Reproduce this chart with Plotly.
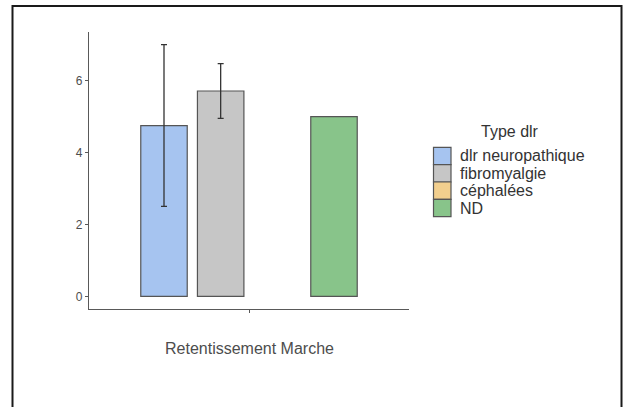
import plotly.graph_objects as go

# Data
category = ["Retentissement Marche"]
groups = ["dlr neuropathique", "fibromyalgie", "céphalées", "ND"]
means = [4.75, 5.71, None, 5.0]
errors = [2.25, 0.76, None, None]
colors = ["#A6C4F0", "#C6C6C6", "#F2CF8E", "#88C48A"]
y_ticks = [0, 2, 4, 6]

fig = go.Figure()
for g, m, e, c in zip(groups, means, errors, colors):
    fig.add_trace(go.Bar(
        x=category, y=[m], name=g, showlegend=False,
        marker=dict(color=c, line=dict(color="#555555", width=1.2)),
        error_y=dict(type="data", array=[e], visible=e is not None,
                     color="#333333", thickness=1.3, width=3),
    ))

W, H = 629, 407
L, R, T, B = 89, 629 - 409, 32, 407 - 309
pw, ph = W - L - R, H - T - B

def px_x(x):
    return (x - L) / pw

def px_y(y):
    return (H - B - y) / ph

shapes = [dict(
    type="rect", xref="paper", yref="paper",
    x0=px_x(12.5), x1=px_x(621.5), y0=px_y(440), y1=px_y(6),
    line=dict(color="#1a1a1a", width=2), fillcolor="rgba(0,0,0,0)", layer="below",
)]
annotations = [
    dict(text="Type dlr", xref="paper", yref="paper", x=px_x(510), y=px_y(131.5),
         xanchor="center", yanchor="middle", showarrow=False,
         font=dict(size=16, color="#333333")),
    dict(text="Retentissement Marche", xref="paper", yref="paper", x=px_x(249.5), y=px_y(348.3),
         xanchor="center", yanchor="middle", showarrow=False,
         font=dict(size=16, color="#4D4D4D")),
]
key_top, key_h = 147.3, 17.35
for i, (g, c) in enumerate(zip(groups, colors)):
    y0 = key_top + i * key_h
    shapes.append(dict(
        type="rect", xref="paper", yref="paper",
        x0=px_x(433.5), x1=px_x(451), y0=px_y(y0 + key_h), y1=px_y(y0),
        line=dict(color="#555555", width=1.2), fillcolor=c,
    ))
    annotations.append(dict(
        text=g, xref="paper", yref="paper", x=px_x(458), y=px_y(y0 + key_h / 2),
        xanchor="left", yanchor="middle", showarrow=False,
        font=dict(size=16, color="#333333"),
    ))

fig.update_layout(
    width=W, height=H,
    margin=dict(l=L, r=R, t=T, b=B),
    paper_bgcolor="white", plot_bgcolor="white",
    barmode="group", bargap=0.15, bargroupgap=0.18,
    showlegend=False,
    font=dict(family="Arial, Liberation Sans, sans-serif", color="#4D4D4D"),
    xaxis=dict(
        type="category", range=[-0.6, 0.6],
        showline=True, linecolor="#595959", linewidth=1.3,
        ticks="outside", ticklen=3, tickcolor="#595959", tickwidth=1.3,
        showticklabels=False, showgrid=False, zeroline=False,
    ),
    yaxis=dict(
        range=[-0.35, 7.35], tickvals=y_ticks,
        showline=True, linecolor="#595959", linewidth=1.3,
        ticks="outside", ticklen=3, tickcolor="#595959", tickwidth=1.3,
        tickfont=dict(size=12, color="#4D4D4D"),
        showgrid=False, zeroline=False,
    ),
    shapes=shapes,
    annotations=annotations,
)

fig.write_html("out.html", config={"displayModeBar": False},
               post_script="document.body.style.margin='0';")
